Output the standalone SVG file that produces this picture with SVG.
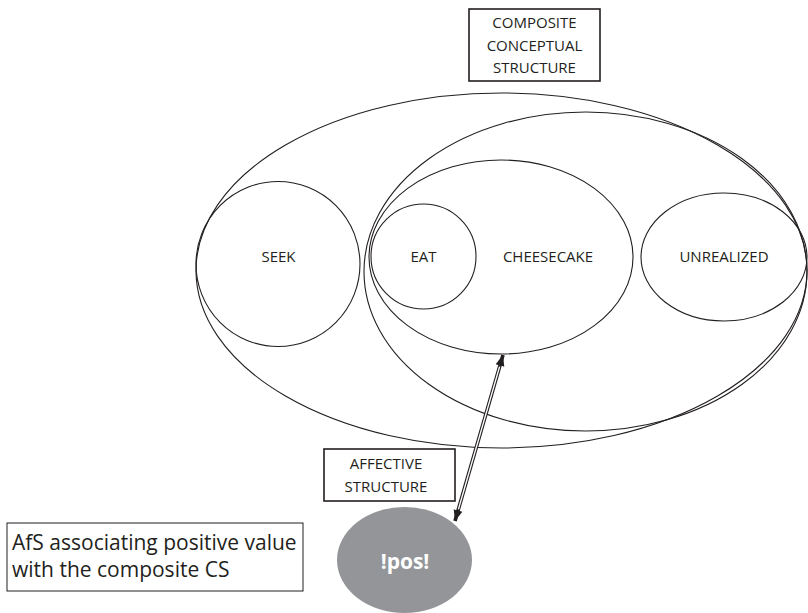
<svg xmlns="http://www.w3.org/2000/svg" width="808" height="613" viewBox="0 0 808 613">
  <defs>
    <style>
      .ring { fill: none; stroke: #231f20; stroke-width: 1.1; }
      .box { fill: #ffffff; stroke: #231f20; stroke-width: 1.6; }
      .lbl { font-family: "Open Sans", "Liberation Sans", Arial, sans-serif; font-size: 15px; fill: #231f20; text-anchor: middle; }
      .note { font-family: "Open Sans", "Liberation Sans", Arial, sans-serif; font-size: 21px; fill: #231f20; }
      .pos { font-family: "Open Sans", "Liberation Sans", Arial, sans-serif; font-size: 21px; font-weight: bold; fill: #ffffff; text-anchor: middle; }
    </style>
    <marker id="head" markerUnits="userSpaceOnUse" markerWidth="12" markerHeight="10" refX="11" refY="4.5" orient="auto-start-reverse" viewBox="0 0 12 9">
      <path d="M0,0 L11,4.5 L0,9 Z" fill="#231f20"/>
    </marker>
  </defs>
  <rect width="808" height="613" fill="#ffffff"/>

  <!-- composite conceptual structure -->
  <g id="composite">
    <ellipse class="ring" cx="501.5" cy="270.5" rx="305.5" ry="177.5"/>
  </g>
  <g id="composite-label">
    <rect class="box" x="469" y="9" width="131" height="72"/>
    <text class="lbl" x="534.5" y="28">COMPOSITE</text>
    <text class="lbl" x="534.5" y="50.5">CONCEPTUAL</text>
    <text class="lbl" x="534.5" y="72.5">STRUCTURE</text>
  </g>
  <g id="realized">
    <ellipse class="ring" cx="585.5" cy="271.5" rx="221.5" ry="159.5"/>
  </g>
  <g id="seek">
    <ellipse class="ring" cx="278" cy="264" rx="82" ry="82.5"/>
    <text class="lbl" x="278.5" y="262">SEEK</text>
  </g>
  <g id="cheesecake">
    <ellipse class="ring" cx="501" cy="257" rx="132" ry="97"/>
    <text class="lbl" x="548" y="262">CHEESECAKE</text>
  </g>
  <g id="eat">
    <ellipse class="ring" cx="423.5" cy="256.5" rx="52.5" ry="52.5"/>
    <text class="lbl" x="423.5" y="262">EAT</text>
  </g>
  <g id="unrealized">
    <ellipse class="ring" cx="724" cy="257" rx="83" ry="64"/>
    <text class="lbl" x="724" y="262">UNREALIZED</text>
  </g>

  <!-- affective structure -->
  <g id="affective-label">
    <rect class="box" x="324" y="449" width="131" height="52"/>
    <text class="lbl" x="386" y="469">AFFECTIVE</text>
    <text class="lbl" x="386" y="492">STRUCTURE</text>
  </g>
  <g id="pos">
    <ellipse cx="404.5" cy="560" rx="67.5" ry="53" fill="#939598"/>
    <text class="pos" x="405" y="569">!pos!</text>
  </g>
  <g id="note">
    <rect x="7" y="523" width="296" height="68" fill="#ffffff" stroke="#231f20" stroke-width="1"/>
    <text class="note" x="12" y="550">AfS associating positive value</text>
    <text class="note" x="12" y="577">with the composite CS</text>
  </g>

  <!-- double-line link between the affective value and the composite -->
  <g id="connectors">
    <path d="M455,521 L503,355" fill="none" stroke="#231f20" stroke-width="3.6" marker-start="url(#head)" marker-end="url(#head)"/>
    <path d="M458.4,509.4 L499.6,366.6" fill="none" stroke="#ffffff" stroke-width="1.4"/>
  </g>
</svg>
